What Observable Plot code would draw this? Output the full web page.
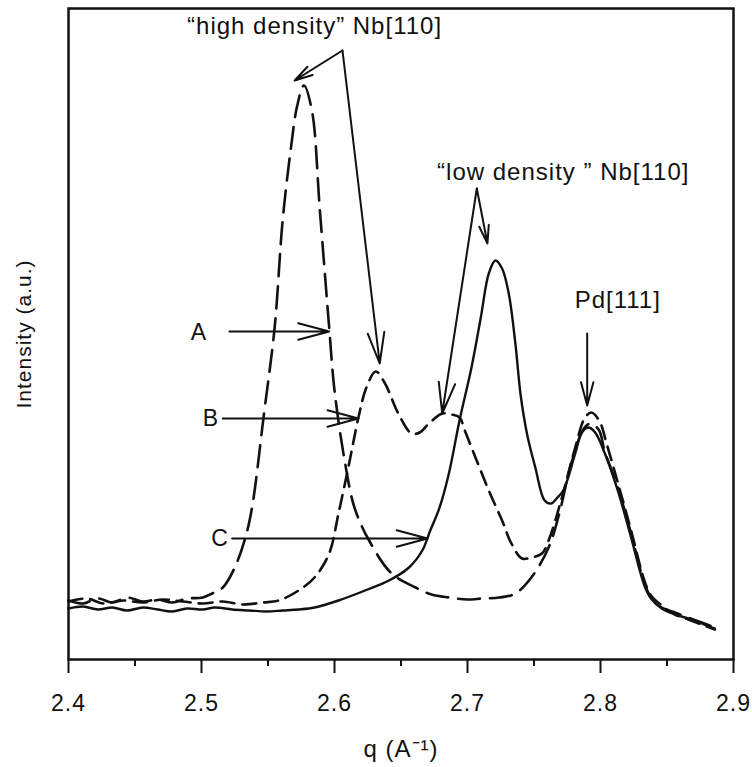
<!DOCTYPE html>
<html>
<head>
<meta charset="utf-8">
<script src="https://cdn.jsdelivr.net/npm/d3@7"></script>
<script src="https://cdn.jsdelivr.net/npm/@observablehq/plot@0.6"></script>
<style>
  body { margin: 0; background: #fff; }
  svg text { letter-spacing: 1px; }
</style>
</head>
<body>
<div id="chart"></div>
<script>
// ---- Curve A (long dashes): "high density" Nb[110] peak + Pd[111]
const qA = [2.400,2.411,2.422,2.433,2.444,2.456,2.467,2.478,2.489,2.501,2.508,2.516,2.525,2.533,2.538,2.547,2.555,2.561,2.567,2.572,2.577,2.583,2.589,2.596,2.600,2.608,2.615,2.626,2.643,2.661,2.673,2.686,2.700,2.711,2.724,2.736,2.748,2.761,2.769,2.778,2.788,2.793,2.799,2.803,2.813,2.823,2.833,2.838,2.846,2.856,2.866,2.876,2.886];
const intensityA = [59,56,61,57,62,58,60,57,61,62,66,72,92,122,152,246,332,439,509,554,574,549,449,332,269,196,152,119,86,72,65,62,60,61,62,66,82,112,146,196,232,236,229,209,172,126,76,62,52,47,42,37,32];

// ---- Curve B (short dashes): both Nb[110] peaks + Pd[111]
const qB = [2.400,2.414,2.426,2.441,2.456,2.471,2.486,2.501,2.516,2.531,2.546,2.558,2.573,2.585,2.596,2.603,2.611,2.618,2.624,2.631,2.638,2.648,2.658,2.664,2.671,2.681,2.688,2.694,2.698,2.706,2.716,2.726,2.733,2.741,2.748,2.756,2.761,2.771,2.781,2.788,2.793,2.799,2.805,2.813,2.823,2.833,2.838,2.846,2.856,2.866,2.876,2.886];
const intensityB = [58,61,56,59,57,60,58,56,58,55,57,59,69,82,106,146,196,242,272,288,276,246,226,227,236,246,245,242,229,202,169,139,116,101,102,106,119,162,212,241,247,239,214,177,129,79,64,54,45,40,35,30];

// ---- Curve C (solid): "low density" Nb[110] peak + Pd[111]
const qC = [2.400,2.411,2.422,2.433,2.444,2.456,2.467,2.478,2.489,2.501,2.510,2.523,2.536,2.549,2.561,2.573,2.585,2.603,2.623,2.641,2.656,2.666,2.672,2.679,2.686,2.694,2.703,2.710,2.716,2.721,2.726,2.731,2.736,2.740,2.745,2.751,2.758,2.763,2.767,2.772,2.781,2.786,2.791,2.796,2.803,2.813,2.823,2.833,2.838,2.846,2.856,2.866,2.876,2.886];
const intensityC = [51,53,50,52,49,52,50,48,51,50,52,50,49,48,49,50,52,59,69,79,92,109,129,152,186,239,292,342,386,399,391,366,316,264,224,192,159,156,161,169,206,227,232,227,207,169,122,74,61,51,45,41,36,31];

// ---- Axis ticks
const majorTicks = [2.4, 2.5, 2.6, 2.7, 2.8, 2.9];
const minorTicks = [2.45, 2.55, 2.65, 2.75, 2.85];

// ---- Annotations (in data units: q, intensity)
const labelText = ["\u201Chigh density\u201D Nb[110]", "\u201Clow density \u201D Nb[110]", "Pd[111]"];
const labelQ = [2.585, 2.772, 2.813];
const labelI = [633, 487, 359];

const curveNames = ["A", "B", "C"];
const curveNameQ = [2.498, 2.507, 2.514];
const curveNameI = [327, 241, 121];

const arrowQ1 = [2.521, 2.516, 2.523, 2.790, 2.606, 2.606, 2.707, 2.707];
const arrowI1 = [328, 241, 121, 326, 609, 609, 471, 471];
const arrowQ2 = [2.596, 2.618, 2.670, 2.790, 2.570, 2.634, 2.715, 2.681];
const arrowI2 = [328, 241, 121, 254, 579, 296, 416, 246];

const toRows = (qs, is) => qs.map((q, i) => ({q, I: is[i]}));
const rowsA = toRows(qA, intensityA);
const rowsB = toRows(qB, intensityB);
const rowsC = toRows(qC, intensityC);
const labels = labelText.map((t, i) => ({t, q: labelQ[i], I: labelI[i]}));
const names = curveNames.map((t, i) => ({t, q: curveNameQ[i], I: curveNameI[i]}));
const arrows = arrowQ1.map((q1, i) => ({q1, I1: arrowI1[i], q2: arrowQ2[i], I2: arrowI2[i]}));

const ink = "#111";

const chart = Plot.plot({
  width: 752,
  height: 767,
  marginLeft: 68,
  marginRight: 19,
  marginTop: 8,
  marginBottom: 108,
  x: {domain: [2.4, 2.9]},
  y: {domain: [0, 651], axis: null},
  style: {fontFamily: "'Liberation Sans', Arial, sans-serif", fontSize: "22px", background: "#fff", color: ink},
  marks: [
    Plot.frame({stroke: ink, strokeWidth: 2.5}),
    Plot.axisX({ticks: minorTicks, tickSize: 7, tickFormat: () => "", label: null, strokeWidth: 2}),
    Plot.axisX({ticks: majorTicks, tickSize: 14, tickPadding: 21, tickFormat: d => d.toFixed(1), label: null, fontSize: 23, strokeWidth: 2}),
    Plot.line(rowsA, {x: "q", y: "I", stroke: ink, strokeWidth: 2.6, strokeDasharray: "22,10", curve: "catmull-rom"}),
    Plot.line(rowsB, {x: "q", y: "I", stroke: ink, strokeWidth: 2.6, strokeDasharray: "14,8", curve: "catmull-rom"}),
    Plot.line(rowsC, {x: "q", y: "I", stroke: ink, strokeWidth: 2.4, curve: "catmull-rom"}),
    Plot.arrow(arrows, {x1: "q1", y1: "I1", x2: "q2", y2: "I2", stroke: ink, strokeWidth: 2, headLength: 24, headAngle: 30}),
    Plot.text(labels, {x: "q", y: "I", text: "t", fontSize: 24, fill: ink}),
    Plot.text(names, {x: "q", y: "I", text: "t", fontSize: 23, fill: ink}),
    Plot.text(["q (A\u207B\u00B9)"], {frameAnchor: "bottom", lineAnchor: "middle", textAnchor: "middle", dy: 90, fontSize: 24, fill: ink}),
    Plot.text(["Intensity (a.u.)"], {frameAnchor: "left", lineAnchor: "middle", textAnchor: "middle", rotate: -90, dx: -44, fontSize: 21, fill: ink})
  ]
});
document.getElementById("chart").appendChild(chart);
</script>
</body>
</html>
